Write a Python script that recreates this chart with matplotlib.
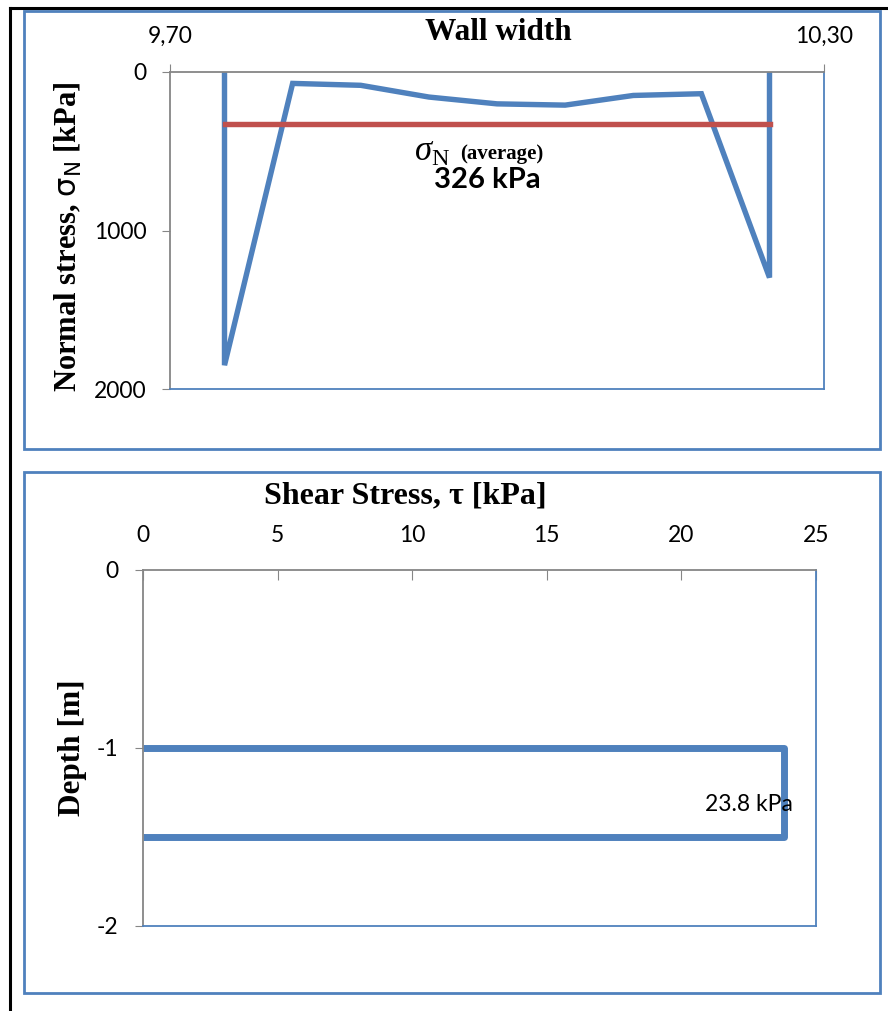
import matplotlib.pyplot as plt
from matplotlib.patches import Rectangle
from matplotlib.lines import Line2D

# data
wall_x = [9.75, 9.75, 9.8125, 9.875, 9.9375, 10.0, 10.0625, 10.125, 10.1875, 10.25, 10.25]
sigma_n = [0, 1850, 72, 84, 158, 201, 209, 148, 137, 1297, 0]
sigma_avg = 326
x_ticks = [9.70, 10.30]
x_ticklabels = ['9,70', '10,30']
y_ticks_top = [0, 1000, 2000]

tau = [0, 23.8, 23.8, 0]
depth = [-1.0, -1.0, -1.5, -1.5]
tau_ticks = [0, 5, 10, 15, 20, 25]
depth_ticks = [0, -1, -2]

BLUE = '#4F81BD'
RED = '#C0504D'
GRAY = '#868686'
TICKFONT = 'Lato'
SERIF = 'Liberation Serif'

plt.rcParams['axes.unicode_minus'] = False
plt.rcParams['mathtext.fontset'] = 'custom'
plt.rcParams['mathtext.rm'] = 'Liberation Serif'
plt.rcParams['mathtext.it'] = 'Liberation Serif:italic'
plt.rcParams['mathtext.bf'] = 'Liberation Serif:bold'
plt.rcParams['mathtext.sf'] = 'DejaVu Sans'

W, H = 888, 1011
fig = plt.figure(figsize=(W / 100, H / 100), dpi=100)

def fx(px):
    return px / W

def fy(py):
    return 1 - py / H

# outer black lines and blue panel frames
fig.add_artist(Line2D([fx(10), fx(888)], [fy(8), fy(8)], color='black', lw=2.2, transform=fig.transFigure))
fig.add_artist(Line2D([fx(10), fx(10)], [fy(8), fy(1011)], color='black', lw=2.2, transform=fig.transFigure))
for top, bot in [(11, 449), (472, 993)]:
    fig.add_artist(Rectangle((fx(24), fy(bot)), fx(880) - fx(24), fy(top) - fy(bot),
                             fill=False, edgecolor=BLUE, lw=2.0, transform=fig.transFigure))


def style_axes(ax):
    ax.spines['top'].set_color(GRAY)
    ax.spines['left'].set_color(GRAY)
    ax.spines['right'].set_color(BLUE)
    ax.spines['bottom'].set_color(BLUE)
    for s in ax.spines.values():
        s.set_linewidth(1.3)
    ax.xaxis.tick_top()
    for lab in ax.get_xticklabels() + ax.get_yticklabels():
        lab.set_fontfamily(TICKFONT)
        lab.set_fontsize(16.5)


# ---- top chart: normal stress
ax1 = fig.add_axes([fx(170), fy(389), fx(824) - fx(170), fy(72) - fy(389)])
ax1.plot(wall_x, sigma_n, color=BLUE, lw=3.9, solid_joinstyle='miter')
ax1.plot([wall_x[0], wall_x[-1]], [sigma_avg, sigma_avg], color=RED, lw=3.9)
ax1.set_xlim(x_ticks[0], x_ticks[1])
ax1.set_ylim(2000, 0)
ax1.set_xticks(x_ticks)
ax1.set_xticklabels(x_ticklabels)
ax1.set_yticks(y_ticks_top)
style_axes(ax1)
ax1.tick_params(axis='x', direction='out', length=6, color=GRAY, pad=12)
ax1.tick_params(axis='y', direction='out', length=6, color=GRAY, pad=11)

ax1.text(9.957, 500, r'$\sigma_{\mathrm{N}}$', fontsize=25, ha='right', va='center')
ax1.text(9.966, 520, '(average)', fontsize=15, fontweight='bold', fontfamily=SERIF,
         ha='left', va='center')
ax1.text(9.991, 680, f'{sigma_avg} kPa', fontsize=21, fontweight='bold', fontfamily=TICKFONT,
         ha='center', va='center')

fig.text(fx(498), fy(33), 'Wall width', fontsize=22.5, fontweight='bold', fontfamily=SERIF,
         ha='center', va='center')
fig.text(fx(68), fy(237), r'Normal stress, $\mathsf{\sigma_N}$ [kPa]', fontsize=22,
         fontweight='bold', fontfamily=SERIF, rotation=90, ha='center', va='center')

# ---- bottom chart: shear stress
ax2 = fig.add_axes([fx(143), fy(926), fx(816) - fx(143), fy(570) - fy(926)])
ax2.plot(tau, depth, color=BLUE, lw=5, solid_joinstyle='round', solid_capstyle='butt')
ax2.set_xlim(0, 25)
ax2.set_ylim(-2, 0)
ax2.set_xticks(tau_ticks)
ax2.set_yticks(depth_ticks)
style_axes(ax2)
ax2.tick_params(axis='x', direction='in', length=7, color=GRAY, pad=17)
ax2.tick_params(axis='y', direction='out', length=6, color=GRAY, pad=12)
ax2.text(22.5, -1.32, f'{tau[1]} kPa', fontsize=16.5, fontfamily=TICKFONT,
         ha='center', va='center')

fig.text(fx(405), fy(496), 'Shear Stress, τ [kPa]', fontsize=23, fontweight='bold',
         fontfamily=SERIF, ha='center', va='center')
fig.text(fx(72), fy(748), 'Depth [m]', fontsize=22.5, fontweight='bold', fontfamily=SERIF,
         rotation=90, ha='center', va='center')

fig.savefig('out.png', dpi=100)
